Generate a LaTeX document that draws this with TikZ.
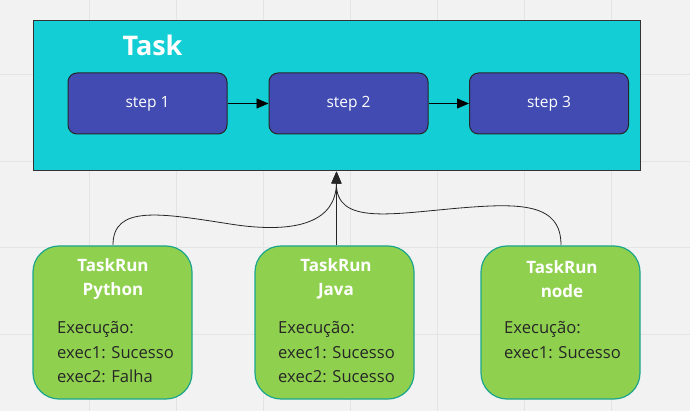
\documentclass[tikz,border=0pt]{standalone}
\usepackage{fontspec}
\setmainfont{Open Sans}
\usetikzlibrary{arrows.meta}
\definecolor{bgc}{HTML}{F2F2F2}
\definecolor{gridc}{HTML}{E4E4E4}
\definecolor{taskc}{HTML}{13CED4}
\definecolor{stepc}{HTML}{414BB2}
\definecolor{runc}{HTML}{8FD14F}
\definecolor{runb}{HTML}{1BA58C}
\begin{document}
\begin{tikzpicture}[x=1pt,y=-1pt,
  taskbox/.style={draw=black!80,line width=1pt,fill=taskc,minimum width=607pt,minimum height=150pt,inner sep=0pt},
  stepbox/.style={draw=black!85,line width=1pt,fill=stepc,rounded corners=9pt,minimum width=159pt,minimum height=61pt,inner sep=0pt,text=white,font=\fontsize{15.5}{17}\selectfont},
  runbox/.style={draw=runb,line width=1.2pt,fill=runc,rounded corners=26pt,minimum width=159pt,minimum height=153pt,inner sep=0pt},
  runtitle/.style={text=white,font=\bfseries\fontsize{17}{24}\selectfont,align=center,inner sep=0pt},
  runbody/.style={text=black!85,font=\fontsize{16.6}{24.5}\selectfont,align=left,anchor=west,inner sep=0pt},
  flow/.style={-{Triangle[width=10pt,length=12pt]},line width=0.8pt,black},
  link/.style={-{Triangle[width=10pt,length=12pt]},line width=0.8pt,black!85}
]
\useasboundingbox (0,0) rectangle (690,411);
\fill[bgc] (0,0) rectangle (690,411);
\foreach \gx in {89,176,263,350,437,524,611} \draw[gridc,line width=1pt] (\gx,0) -- (\gx,411);
\foreach \gy in {75,162,248,334} \draw[gridc,line width=1pt] (0,\gy) -- (690,\gy);

\node[taskbox] (task) at (336.5,96) {};
\node[text=white,font=\bfseries\fontsize{27}{29}\selectfont,inner sep=0pt] (tasklbl) at (152.5,45) {Task};
\node[stepbox] (s1) at (147.5,103.5) {step 1};
\node[stepbox] (s2) at (348.5,103.5) {step 2};
\node[stepbox] (s3) at (549,103.5) {step 3};
\draw[flow] (s1) -- (s2);
\draw[flow] (s2) -- (s3);

\node[runbox] (py) at (112.5,322.5) {};
\node[runbox] (jv) at (334.5,322.5) {};
\node[runbox] (nd) at (560.5,322.5) {};

\node[runtitle] (pyt) at (113,279) {TaskRun\\Python};
\node[runtitle] (jvt) at (336,279) {TaskRun\\Java};
\node[runtitle] (ndt) at (562,279) {TaskRun\\node};

\node[runbody] (pyb) at (57,352.5) {Execução:\\exec1: Sucesso\\exec2: Falha};
\node[runbody] (jvb) at (278,352.5) {Execução:\\exec1: Sucesso\\exec2: Sucesso};
\node[runbody] (ndb) at (504,340) {Execução:\\exec1: Sucesso};

\coordinate (pyo) at (113,245);
\coordinate (ndo) at (561,245);
\draw[link] (pyo) .. controls (113,205) and (160,213) .. (230,224) .. controls (300,235) and (336,220) .. (task.south);
\draw[link] (jv.north -| task.south) -- (task.south);
\draw[link] (ndo) .. controls (561,203) and (520,203) .. (460,208) .. controls (390,214) and (336,225) .. (task.south);
\end{tikzpicture}
\end{document}
